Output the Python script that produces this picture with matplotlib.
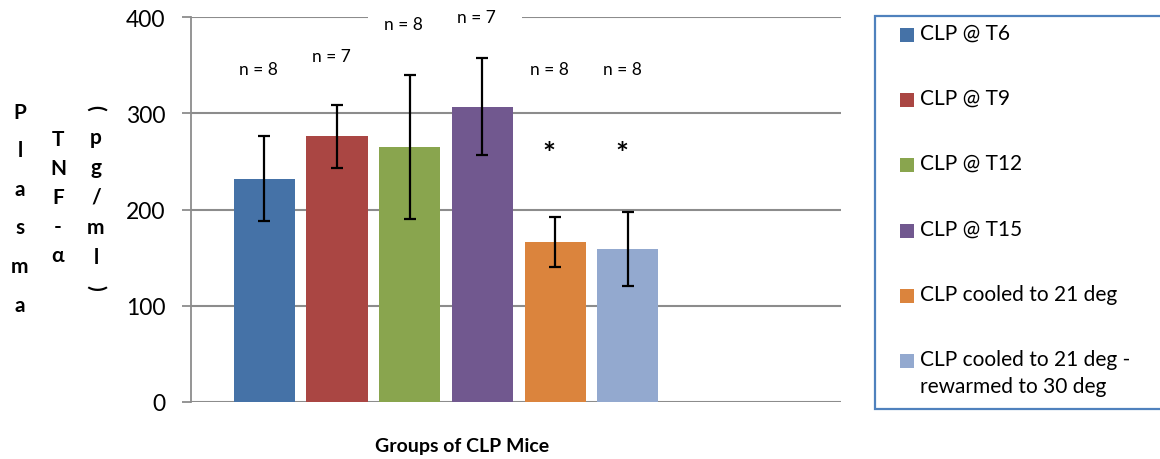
import matplotlib
matplotlib.use("Agg")
from matplotlib import pyplot as plt
from matplotlib.patches import Rectangle

groups = ["CLP @ T6", "CLP @ T9", "CLP @ T12", "CLP @ T15",
          "CLP cooled to 21 deg", "CLP cooled to 21 deg -\nrewarmed to 30 deg"]
tnf_means = [232, 276, 265, 307, 166, 159]
tnf_err = [44, 33, 74.5, 50.5, 26, 38.5]
n_labels = ["n = 8", "n = 7", "n = 8", "n = 7", "n = 8", "n = 8"]
n_label_y = [346, 360, 393, 400, 346, 346]
significant = [False, False, False, False, True, True]
colors = ["#4572A7", "#AA4643", "#89A54E", "#71588F", "#DB843D", "#93A9CF"]

plt.rcParams["font.family"] = ["Lato", "DejaVu Sans"]

W, H = 1160, 460
fig = plt.figure(figsize=(W / 100, H / 100), dpi=100)
ax = fig.add_axes([191 / W, 1 - 402.7 / H, 650 / W, (402.7 - 18.3) / H])

x = list(range(len(groups)))
ax.bar(x, tnf_means, width=0.84, color=colors, zorder=2)
ax.errorbar(x, tnf_means, yerr=tnf_err, fmt="none", ecolor="black",
            elinewidth=1.6, capsize=4.5, capthick=1.6, zorder=3)

ax.set_xlim(-1.008, 7.933)
ax.set_ylim(0, 400)
ax.set_yticks([0, 100, 200, 300, 400])
ax.set_xticks([])
ax.yaxis.grid(True, color="#8c8c8c", linewidth=1.5)
ax.set_axisbelow(True)
for side in ["top", "right", "bottom"]:
    ax.spines[side].set_visible(False)
ax.spines["left"].set_color("#8c8c8c")
ax.spines["left"].set_linewidth(1.3)
ax.tick_params(axis="y", length=6.5, width=1.3, color="#8c8c8c",
               labelsize=16.5, pad=12)

# white box behind the two tallest n labels, it cuts the top gridline
ax.add_patch(Rectangle((1.426, 380), 2.12, 30, facecolor="white",
                       edgecolor="none", zorder=1, clip_on=False))

for i, (lab, ly) in enumerate(zip(n_labels, n_label_y)):
    ax.text(i - 0.08, ly, lab, ha="center", va="center", fontsize=12.5, zorder=4)
    if significant[i]:
        ax.text(i - 0.08, 258, "*", ha="center", va="center", fontsize=22,
                fontweight="bold", zorder=4)

fig.text(462 / W, 1 - 447 / H, "Groups of CLP Mice", ha="center", va="center",
         fontsize=14, fontweight="bold")

# stacked y-axis title, three columns of letters
cols = [(20, "Plasma", 113, 38.5), (58, "TNF-α", 140, 29), (96, "(pg/ml)", 108, 30)]
for cx, word, y0, step in cols:
    for k, ch in enumerate(word):
        rot = 0
        if ch in "()":
            rot = -90
        fig.text(cx / W, 1 - (y0 + k * step) / H, ch, ha="center", va="center",
                 fontsize=15, fontweight="bold", rotation=rot)

# legend
fig.add_artist(Rectangle((875 / W, 1 - 410 / H), 300 / W, 393 / H,
                         transform=fig.transFigure, facecolor="white",
                         edgecolor="#4F81BD", linewidth=1.6))
entry_y = [36, 101, 166, 232, 297, 362]
for lab, c, ey in zip(groups, colors, entry_y):
    fig.add_artist(Rectangle((900 / W, 1 - (ey + 7) / H), 14 / W, 14 / H,
                             transform=fig.transFigure, facecolor=c, edgecolor="none"))
    fig.text(920 / W, 1 - (ey - 12) / H, lab, ha="left", va="top",
             fontsize=15, linespacing=1.45)

fig.savefig("out.png", dpi=100)
